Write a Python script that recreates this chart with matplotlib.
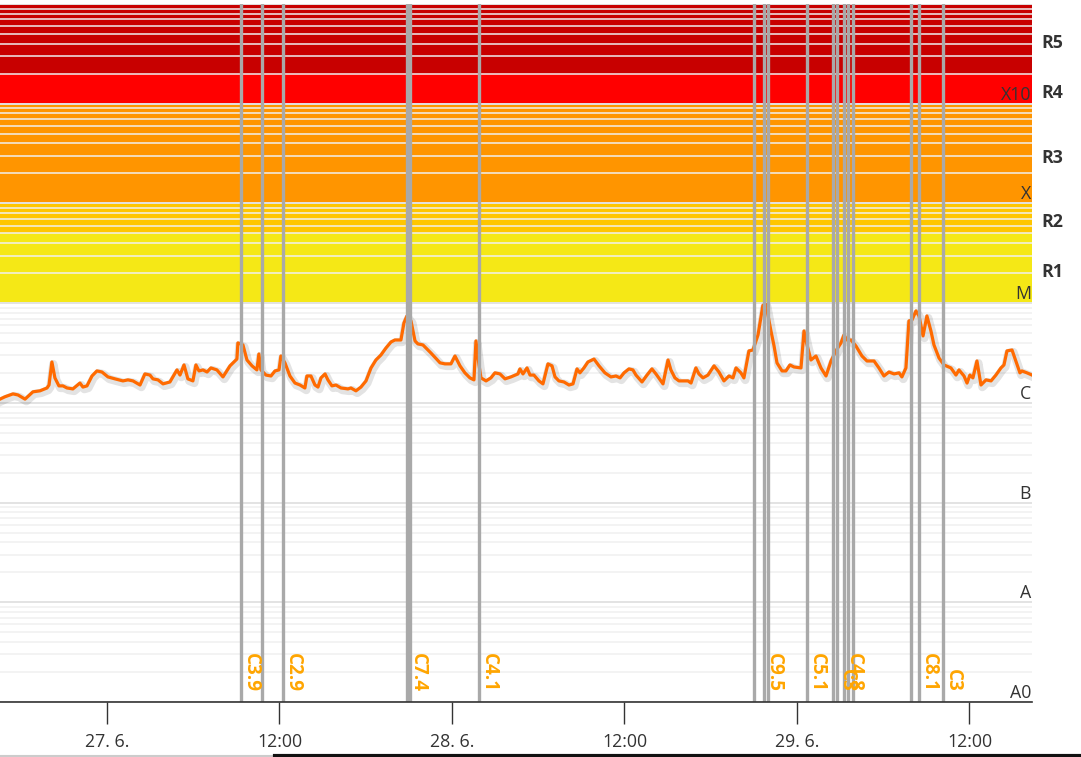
import matplotlib
matplotlib.use("Agg")
import matplotlib.pyplot as plt
import matplotlib.patheffects as pe
from matplotlib.transforms import offset_copy, blended_transform_factory
import numpy as np

plt.rcParams['font.family'] = ['Open Sans', 'DejaVu Sans']

# hours since 27. 6. 00:00
hours = [
    -7.44, -7.10, -6.54, -6.19, -5.70, -5.15, -4.66, -4.17, -4.03, -3.83, -3.62, -3.34, -3.06, -2.78,
    -2.37, -1.88, -1.67, -1.39, -1.04, -0.70, -0.35, 0.07, 0.56, 1.11, 1.46, 1.81, 2.30, 2.64, 2.99,
    3.20, 3.55, 3.90, 4.38, 4.87, 5.08, 5.36, 5.63, 5.98, 6.19, 6.40, 6.68, 6.96, 7.23, 7.65, 8.07,
    8.56, 9.04, 9.11, 9.46, 9.74, 10.09, 10.43, 10.57,
    10.71, 11.06, 11.41, 11.69, 11.97, 12.10, 12.38, 12.73, 13.08, 13.43, 13.77, 13.91, 14.19, 14.47,
    14.68, 14.89, 15.17, 15.37, 15.65, 15.93, 16.28, 16.77, 16.97, 17.32, 17.67, 18.02, 18.37, 18.71,
    19.06, 19.41, 19.76, 20.03, 20.45, 20.66, 20.87, 21.15, 21.43, 21.63, 21.98, 22.54, 23.17, 23.51,
    23.93, 24.21, 24.56, 24.90, 25.25, 25.53, 25.67, 25.88, 26.02, 26.37, 26.71, 26.99, 27.34, 27.69,
    28.10, 28.59,
    28.73, 28.94, 29.22, 29.43, 29.70, 30.05, 30.33, 30.68, 30.96, 31.17, 31.44, 31.79, 32.14, 32.42,
    32.70, 32.90, 33.18, 33.46, 33.88, 34.23, 34.64, 35.06, 35.41, 35.69, 35.97, 36.31, 36.59, 36.80,
    37.22, 37.57, 37.91, 38.19, 38.68, 39.03, 39.23, 39.51, 39.79, 40.07, 40.42, 40.63, 40.97, 41.18,
    41.46, 41.81, 42.23, 42.57, 42.92, 43.27, 43.55, 43.76, 44.10, 44.31, 44.66, 44.94, 45.29, 45.63,
    45.84, 46.19, 46.40,
    46.61, 46.96, 47.23, 47.51, 47.79, 48.28, 48.49, 48.70, 48.97, 49.32, 49.67, 50.02, 50.37, 50.71,
    51.06, 51.27, 51.48, 51.76, 52.10, 52.52, 52.87, 53.36, 53.70, 54.05, 54.40, 54.75, 55.10, 55.30,
    55.58, 55.79, 56.00, 56.28, 56.49, 56.77, 57.04, 57.32, 57.53, 57.88, 58.23, 58.71, 59.06, 59.27,
    59.62, 59.83, 60.03, 60.24, 60.52, 60.80, 61.15, 61.50, 61.84, 62.19, 62.40, 62.61, 62.96, 63.51,
    63.65, 64.00, 64.35,
]

# X-ray flux in units of 1e-6 W/m2 (C class)
flux_c = [
    1.09, 1.15, 1.23, 1.20, 1.09, 1.29, 1.32, 1.41, 1.51, 2.57, 1.78, 1.48, 1.48, 1.41, 1.38, 1.58,
    1.44, 1.48, 1.86, 2.09, 2.04, 1.82, 1.74, 1.66, 1.70, 1.66, 1.51, 1.95, 1.90, 1.74, 1.70, 1.55,
    1.62, 2.14, 1.90, 2.40, 1.74, 1.66, 2.40, 2.09, 2.14, 2.04, 2.24, 2.14, 1.82, 2.35, 2.75, 3.99,
    3.81, 2.69, 2.35, 2.14, 3.09,
    2.14, 1.90, 1.86, 2.09, 2.14, 2.95, 2.52, 1.86, 1.58, 1.51, 1.41, 1.86, 1.86, 1.51, 1.44, 1.78,
    1.95, 1.70, 1.48, 1.51, 1.41, 1.38, 1.41, 1.32, 1.44, 1.66, 2.24, 2.69, 3.02, 3.55, 4.08, 4.27,
    4.27, 6.33, 7.44, 6.63, 4.18, 3.90, 3.81, 3.16, 2.52, 2.46, 2.46, 2.95, 2.35, 2.00, 1.78, 1.70,
    4.18, 2.40, 1.78, 1.66, 1.78, 2.00, 1.95, 1.74, 1.82, 1.95,
    2.19, 1.95, 2.24, 1.90, 1.90, 1.66, 1.55, 2.46, 2.35, 1.82, 1.66, 1.62, 1.51, 1.55, 2.19, 2.00,
    2.24, 2.57, 2.75, 2.35, 2.00, 1.82, 1.86, 1.78, 2.00, 2.19, 2.14, 1.90, 1.62, 1.90, 2.19, 1.95,
    1.55, 2.69, 2.14, 1.78, 1.66, 1.66, 1.66, 1.58, 2.24, 1.95, 1.78, 1.90, 2.35, 2.04, 1.66, 1.86,
    1.78, 2.24, 2.00, 1.78, 3.32, 3.39, 4.80, 9.5, 9.7, 5.26, 3.76,
    2.52, 2.09, 2.09, 2.40, 2.29, 2.24, 5.26, 3.81, 2.69, 2.95, 2.24, 1.86, 2.63, 3.32, 3.99, 4.80,
    4.27, 4.27, 3.72, 2.95, 2.63, 2.63, 2.24, 1.86, 2.04, 1.95, 2.00, 1.82, 2.24, 6.63, 6.78, 8.36,
    7.44, 4.69, 7.44, 5.26, 3.81, 2.82, 2.40, 2.24, 1.90, 2.14, 1.86, 1.58, 1.90, 1.78, 2.63, 1.51,
    1.70, 1.66, 1.90, 2.24, 2.40, 3.32, 3.39, 2.00, 2.09, 2.00, 1.90,
]

# flare events (hours since 27. 6. 00:00) and their labels
flare_hours = [9.30, 10.76, 12.24, 20.90, 21.11, 25.86, 44.99, 45.73, 46.00, 48.70,
               50.52, 50.76, 51.27, 51.57, 51.87, 55.93, 56.47, 58.14]
flare_labels = ['C3.9', '', 'C2.9', 'C7.4', '', 'C4.1', '', 'C9.5', '', 'C5.1',
                '', 'C3', 'C4.8', '', '', '', 'C8.1', 'C3']

# flux classes
class_levels = [1e-9, 1e-8, 1e-7, 1e-6, 1e-5, 1e-4, 1e-3]
class_names = ['A0', 'A', 'B', 'C', 'M', 'X', 'X10']

# radio blackout bands
band_edges = [1e-5, 5e-5, 1e-4, 1e-3, 2e-3, 1e-2]
band_colors = ['#f5e816', '#ffc600', '#ff9500', '#ff0000', '#c80000']
band_names = ['R1', 'R2', 'R3', 'R4', 'R5']

tick_hours = [0, 12, 24, 36, 48, 60]
tick_labels = ['27. 6.', '12:00', '28. 6.', '12:00', '29. 6.', '12:00']

W, H = 1081, 757
fig = plt.figure(figsize=(W / 100, H / 100), dpi=100)
ax = fig.add_axes([0, 55 / H, 1032 / W, 698 / H])
ax.set_yscale('log')
ax.set_ylim(1e-9, 1e-2)
ax.set_xlim(-7.44, 64.35)

for i, c in enumerate(band_colors):
    ax.axhspan(band_edges[i], band_edges[i + 1], color=c, lw=0, zorder=0)

# grid lines
for e in range(-9, -1):
    base = 10.0 ** e
    ax.axhline(base, color='#e3e3e3', lw=1.4, zorder=1)
    for m in range(2, 10):
        ax.axhline(base * m, color='#f0f0f0', lw=1.1, zorder=1)

flux = np.array(flux_c) * 1e-6
ax.plot(hours, flux, color='#ff6a00', lw=2.3, zorder=3, solid_joinstyle='round',
        path_effects=[pe.SimpleLineShadow(offset=(1, -1.5), shadow_color='black', alpha=0.11, linewidth=6),
                      pe.Normal()])

bt = blended_transform_factory(ax.transData, ax.transAxes)
lab_tr = offset_copy(bt, fig=fig, x=0, y=10, units='dots')
for h, lab in zip(flare_hours, flare_labels):
    ax.axvline(h, color='#a9a9a9', lw=2.4, zorder=4)
    if lab:
        ax.text(h, 0, lab, transform=lab_tr, rotation=-90, ha='left', va='bottom',
                color='#ffa500', fontsize=13.5, fontweight='bold', zorder=5)

# class labels at the right edge, just above their grid line
yt = blended_transform_factory(ax.transAxes, ax.transData)
cls_tr = offset_copy(yt, fig=fig, x=-1, y=4, units='dots')
for lv, name in zip(class_levels, class_names):
    ax.text(1.0, lv, name, transform=cls_tr, ha='right', va='baseline',
            color='#333333', fontsize=12.8, zorder=6)

band_tr = offset_copy(yt, fig=fig, x=9, y=-4, units='dots')
for i, name in enumerate(band_names):
    mid = np.sqrt(band_edges[i] * band_edges[i + 1])
    ax.text(1.0, mid, name, transform=band_tr, ha='left', va='center',
            color='#333333', fontsize=12.8, fontweight='bold', clip_on=False)

ax.set_xticks(tick_hours)
ax.set_xticklabels(tick_labels)
ax.tick_params(axis='x', length=16, width=1, color='#333333', labelsize=12.8,
               labelcolor='#333333', pad=6)
ax.tick_params(axis='y', which='both', left=False, labelleft=False)
ax.yaxis.set_minor_locator(matplotlib.ticker.NullLocator())
for s in ['top', 'left', 'right']:
    ax.spines[s].set_visible(False)
ax.spines['bottom'].set_color('#333333')
ax.spines['bottom'].set_linewidth(1.2)
ax.spines['bottom'].set_zorder(7)

# navigator edge at the very bottom
fig.add_artist(plt.Line2D([0, 275 / W], [1.5 / H, 1.5 / H], transform=fig.transFigure, color='#cccccc', lw=1.5))
fig.add_artist(plt.Line2D([275 / W, 1], [1.5 / H, 1.5 / H], transform=fig.transFigure, color='#111111', lw=3))

fig.savefig('out.png', dpi=100)
